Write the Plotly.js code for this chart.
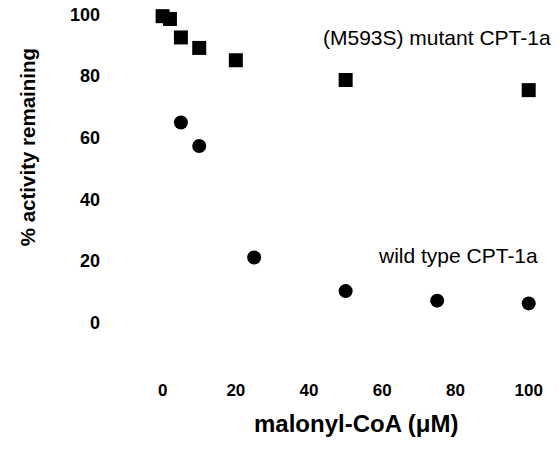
<!DOCTYPE html>
<html>
<head>
<meta charset="utf-8">
<script src="https://cdn.plot.ly/plotly-3.0.1.min.js"></script>
<style>html,body{margin:0;padding:0;background:#fff;}#chart{width:559px;height:449px;}</style>
</head>
<body>
<div id="chart"></div>
<script>
// Data
const mutantX = [0, 2, 5, 10, 20, 50, 100];
const mutantY = [99.4, 98.5, 92.5, 89.1, 85.1, 78.7, 75.4];
const wildX = [5, 10, 25, 50, 75, 100];
const wildY = [64.9, 57.3, 21.1, 10.2, 7.1, 6.2];
const xTicks = [0, 20, 40, 60, 80, 100];
const yTicks = [0, 20, 40, 60, 80, 100];
const mutantLabel = "(M593S) mutant CPT-1a";
const wildLabel = "wild type CPT-1a";
const xTitle = "malonyl-CoA (μM)";
const yTitle = "% activity remaining";

const FONT = "Liberation Sans, Arial, Helvetica, sans-serif";

const traces = [
  {x: wildX, y: wildY, type: "scatter", mode: "markers", name: wildLabel,
   marker: {symbol: "circle", size: 14, color: "#000"}, cliponaxis: false},
  {x: mutantX, y: mutantY, type: "scatter", mode: "markers", name: mutantLabel,
   marker: {symbol: "square", size: 14, color: "#000"}, cliponaxis: false}
];

const layout = {
  width: 559, height: 449,
  margin: {l: 126, r: 12, t: 2, b: 71},
  paper_bgcolor: "#fff", plot_bgcolor: "#fff",
  showlegend: false,
  font: {family: FONT, color: "#000"},
  xaxis: {
    range: [-10, 105], showgrid: false, zeroline: false, showline: false,
    tickmode: "array", tickvals: xTicks, ticktext: xTicks.map(String),
    ticks: "", ticklabelstandoff: 0,
    tickfont: {family: FONT, size: 17, weight: "bold", color: "#000"}
  },
  yaxis: {
    range: [-18, 104], showgrid: false, zeroline: false, showline: false,
    tickmode: "array", tickvals: yTicks, ticktext: yTicks.map(String),
    ticks: "", ticklabelstandoff: 25,
    tickfont: {family: FONT, size: 18, weight: "bold", color: "#000"}
  },
  annotations: [
    {text: mutantLabel, xref: "paper", yref: "paper", x: 1.014, y: 0.906, xanchor: "right", yanchor: "middle",
     showarrow: false, font: {family: FONT, size: 21, color: "#000"}},
    {text: wildLabel, xref: "paper", yref: "paper", x: 0.983, y: 0.327, xanchor: "right", yanchor: "middle",
     showarrow: false, font: {family: FONT, size: 21, color: "#000"}},
    {text: xTitle, xref: "paper", yref: "paper", x: 0.546, y: -0.12, xanchor: "center", yanchor: "middle",
     showarrow: false, font: {family: FONT, size: 24, weight: "bold", color: "#000"}},
    {text: yTitle, xref: "paper", yref: "paper", x: -0.235, y: 0.614, xanchor: "center", yanchor: "middle",
     textangle: -90, showarrow: false, font: {family: FONT, size: 20.5, weight: "bold", color: "#000"}}
  ]
};

Plotly.newPlot("chart", traces, layout, {displayModeBar: false, staticPlot: true});
</script>
</body>
</html>
